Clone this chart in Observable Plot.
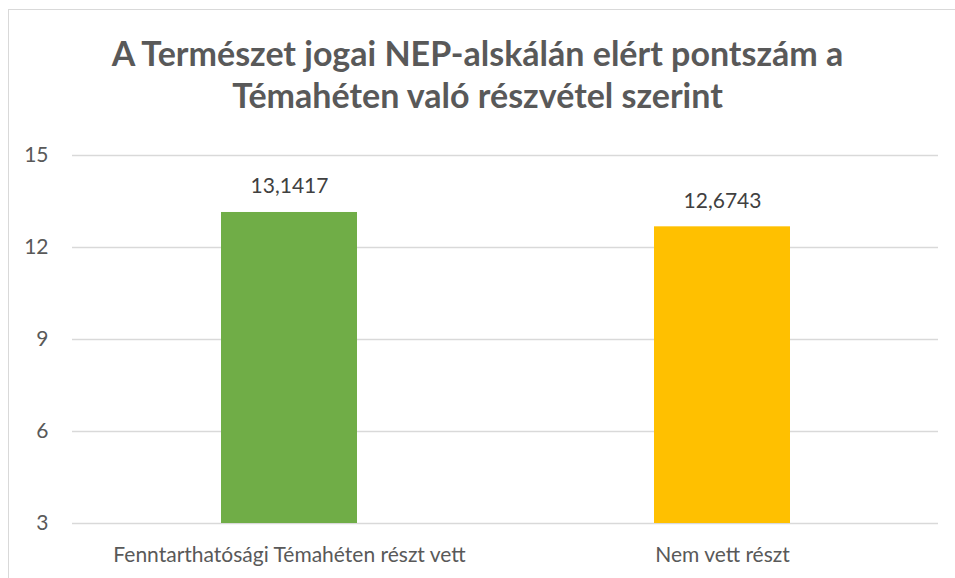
<!DOCTYPE html>
<html>
<head>
<meta charset="utf-8">
<script src="https://cdn.jsdelivr.net/npm/d3@7"></script>
<script src="https://cdn.jsdelivr.net/npm/@observablehq/plot@0.6"></script>
<style>
  html, body { margin: 0; padding: 0; background: #fff; overflow: hidden; }
  #wrap { position: relative; width: 955px; height: 578px; font-family: Lato, sans-serif; }
  #frame { position: absolute; left: 8px; top: 9px; width: 1000px; height: 700px; border: 1.5px solid #d9d9d9; box-sizing: border-box; }
  #title { position: absolute; left: 0; top: 0; width: 955px; height: 135px; text-align: center; color: #595959;
           font-weight: 700; font-size: 34px; line-height: 42px; padding-top: 32px; box-sizing: border-box; white-space: nowrap; }
  #chart { position: absolute; left: 0; top: 135px; }
</style>
</head>
<body>
<div id="wrap">
  <div id="frame"></div>
  <div id="title">A Természet jogai NEP-alskálán elért pontszám a<br>Témahéten való részvétel szerint</div>
  <div id="chart"></div>
</div>
<script>
const categories = ["Fenntarthatósági Témahéten részt vett", "Nem vett részt"];
const values = [13.1417, 12.6743];
const colors = ["#70AD47", "#FFC000"];
const yTicks = [3, 6, 9, 12, 15];
const yDomain = [3, 15];

const data = categories.map((c, i) => ({category: c, value: values[i], color: colors[i]}));
const fmt = v => String(v).replace(".", ",");

const plot = Plot.plot({
  width: 955,
  height: 443,
  marginTop: 20,
  marginBottom: 55,
  marginLeft: 72,
  marginRight: 17,
  style: {fontFamily: "Lato, sans-serif", fontSize: "21px", color: "#595959", background: "transparent"},
  x: {domain: categories, paddingInner: 0.687, paddingOuter: 0.343, label: null},
  y: {domain: yDomain, ticks: yTicks, label: null},
  marks: [
    Plot.gridY(yTicks, {stroke: "#d9d9d9", strokeOpacity: 1, strokeWidth: 1.5}),
    Plot.barY(data, {x: "category", y1: yDomain[0], y2: "value", fill: "color"}),
    Plot.text(data, {x: "category", y: "value", text: d => fmt(d.value), dy: -26, fill: "#404040", fontSize: 21}),
    Plot.axisY(yTicks, {tickSize: 0, tickPadding: 24, fill: "#595959", fontSize: 21, label: null}),
    Plot.axisX({tickSize: 0, tickPadding: 24, fill: "#595959", fontSize: 21, label: null})
  ]
});
document.getElementById("chart").appendChild(plot);
</script>
</body>
</html>
